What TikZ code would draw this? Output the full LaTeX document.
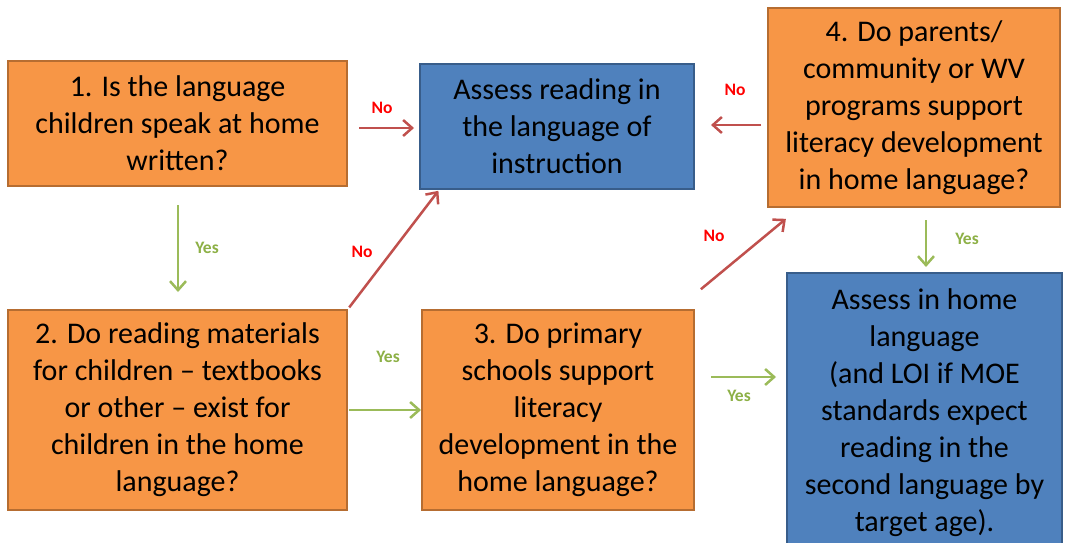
\documentclass[tikz,border=0pt]{standalone}
\usepackage{fontspec}
\setmainfont{Carlito}
\usetikzlibrary{arrows.meta}
\definecolor{boxorange}{HTML}{F79646}
\definecolor{boxorangeline}{HTML}{B66D31}
\definecolor{boxblue}{HTML}{4F81BD}
\definecolor{boxblueline}{HTML}{385D8A}
\definecolor{noarrow}{HTML}{C0504D}
\definecolor{yesarrow}{HTML}{9BBB59}
\definecolor{yestext}{HTML}{8DB046}
\tikzset{ q/.style = { rectangle % question
        , draw = boxorangeline
        , fill = boxorange
        , line width = 2pt
        , align = center
        , font = \fontsize{30}{37}\selectfont
        }
        , a/.style = { rectangle % assessment
        , draw = boxblueline
        , fill = boxblue
        , line width = 2pt
        , align = center
        , font = \fontsize{30}{37}\selectfont
        }
        }

\begin{document}
\begin{tikzpicture}[x=1pt, y=-1pt,
        no_edge_style/.style={draw=noarrow, line width=2.5pt, -{Straight Barb[length=9pt,width=16pt,line width=2.5pt]}},
        yes_edge_style/.style={draw=yesarrow, line width=2.5pt, -{Straight Barb[length=9pt,width=16pt,line width=2.5pt]}},
        no_label_style/.style={text=red, font=\fontsize{17.5}{20}\selectfont\bfseries},
        yes_label_style/.style={text=yestext, font=\fontsize{17.5}{20}\selectfont\bfseries}]
        \useasboundingbox (0,0) rectangle (1073,543);

        \node [q, minimum width=339pt, minimum height=125pt](q1) at (177.5,123.5) {1. Is the language\\children speak at home\\written?};
        \node [q, minimum width=339pt, minimum height=200pt](q2) at (177.5,410) {2. Do reading materials\\for children -- textbooks\\or other -- exist for\\children in the home\\language?};
        \node [q, minimum width=272pt, minimum height=200pt](q3) at (558,410) {3. Do primary\\schools support\\literacy\\development in the\\home language?};
        \node [q, minimum width=292pt, minimum height=199pt](q4) at (914,107.5) {4. Do parents/\\community or WV\\programs support\\literacy development\\in home language?};
        \node [a, minimum width=274pt, minimum height=125pt](a1) at (557,126.5) {Assess reading in\\the language of\\instruction};
        \node [a, minimum width=275pt, minimum height=280pt](a2) at (924.5,413) {Assess in home\\language\\(and LOI if MOE\\standards expect\\reading in the\\second language by\\target age).};

        \draw [no_edge_style, shorten <=11pt, shorten >=5pt] ([yshift=-4.5pt]q1.east) -- ([yshift=-4.5pt]q1.east -| a1.west);
        \draw [yes_edge_style, shorten <=18pt, shorten >=17pt] ([xshift=0.5pt]q1.south) -- ([xshift=0.5pt]q2.north);
        \draw [no_edge_style, shorten <=2pt, shorten >=1pt] (q2.north east) -- ([xshift=20pt]a1.south west);
        \draw [yes_edge_style, shorten <=1pt] (q2.east) -- (q3.west);
        \draw [no_edge_style, shorten <=31pt, shorten >=17pt] ([xshift=-18pt]q3.north east) -- ([xshift=32pt]q4.south west);
        \draw [yes_edge_style, shorten <=16pt, shorten >=10pt] ([yshift=33pt]q3.east) -- ([yshift=33pt]q3.east -| a2.west);
        \draw [no_edge_style, shorten <=6pt, shorten >=16pt] ([yshift=-17.5pt]q4.west) -- ([yshift=-17.5pt]q4.west -| a1.east);
        \draw [yes_edge_style, shorten <=12pt, shorten >=5pt] ([xshift=12pt]q4.south) -- ([xshift=12pt]q4.south |- a2.north);

        \node [no_label_style](l1) at (382,108) {No};
        \node [yes_label_style](l2) at (207,248) {Yes};
        \node [no_label_style](l3) at (362,252) {No};
        \node [yes_label_style](l4) at (388,357) {Yes};
        \node [no_label_style](l5) at (714,236) {No};
        \node [yes_label_style](l6) at (739,396) {Yes};
        \node [no_label_style](l7) at (735,90) {No};
        \node [yes_label_style](l8) at (967,239) {Yes};
\end{tikzpicture}
\end{document}
